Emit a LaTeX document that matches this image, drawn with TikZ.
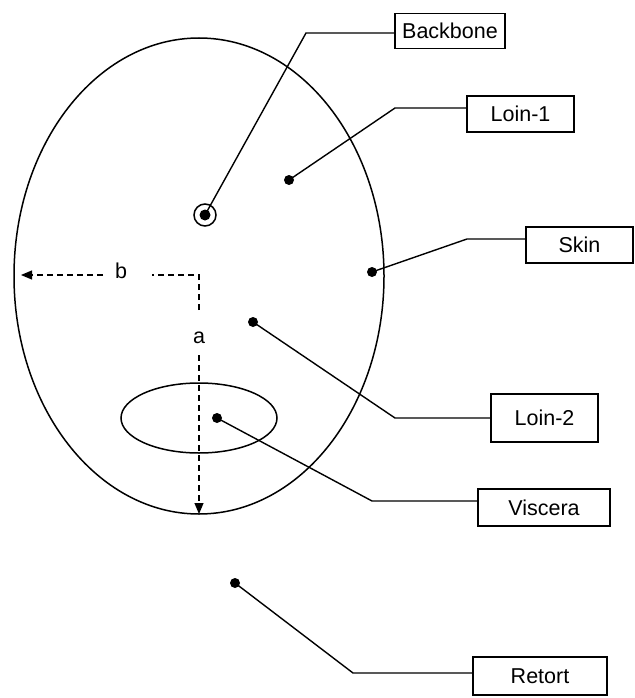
\documentclass[tikz,border=0pt]{standalone}
\usepackage{fontspec}
\setmainfont{Liberation Sans}
\usetikzlibrary{arrows.meta}
\begin{document}
\begin{tikzpicture}[x=1pt,y=-1pt,
  line width=1.5pt,
  lbl/.style={draw,line width=1.4pt,inner sep=0pt,font=\fontsize{21.5}{25}\selectfont},
  dot/.style={circle,fill,inner sep=0pt,minimum size=10pt},
  lead/.style={line width=1.4pt},
  dim/.style={dashed,dash pattern=on 6pt off 4pt,line width=1.2pt},
  tip/.style={-{Triangle[length=11pt,width=9pt]}},
  txt/.style={inner sep=0pt,font=\fontsize{21.5}{25}\selectfont}]
\useasboundingbox (0,0) rectangle (634,698);
% main ellipse
\draw (199,276) ellipse [x radius=185, y radius=238];
% viscera ellipse
\draw (199,418) ellipse [x radius=78, y radius=35];
% boxes
\node[lbl,minimum width=110pt,minimum height=35pt] (backbone) at (450,31) {Backbone};
\node[lbl,minimum width=107pt,minimum height=36pt] (loin1) at (520.5,114) {Loin-1};
\node[lbl,minimum width=107pt,minimum height=36pt] (skin) at (579.5,245) {Skin};
\node[lbl,minimum width=107pt,minimum height=48pt] (loin2) at (544.5,418) {Loin-2};
\node[lbl,minimum width=132pt,minimum height=37pt] (viscera) at (544,507.5) {Viscera};
\node[lbl,minimum width=134pt,minimum height=38pt] (retort) at (540,676) {Retort};
% backbone marker
\node[circle,draw,line width=1.5pt,inner sep=0pt,minimum size=22pt] (bbring) at (205,215) {};
\node[dot,minimum size=11pt] (bbdot) at (205,215) {};
% dots
\node[dot] (d1) at (289,180) {};
\node[dot] (dskin) at (372,272) {};
\node[dot] (d2) at (253,322) {};
\node[dot] (dv) at (217,418) {};
\node[dot] (dr) at (235,583) {};
% elbows
\coordinate (ebb) at (306,33);
\coordinate (e1) at (395,108);
\coordinate (eskin) at (467,239);
\coordinate (e2) at (395,418);
\coordinate (ev) at (372,501);
\coordinate (er) at (353,673);
% leaders
\draw[lead] (bbdot.center) -- (ebb) -- (ebb -| backbone.west);
\draw[lead] (d1.center) -- (e1) -- (e1 -| loin1.west);
\draw[lead] (dskin.center) -- (eskin) -- (eskin -| skin.west);
\draw[lead] (d2.center) -- (e2) -- (e2 -| loin2.west);
\draw[lead] (dv.center) -- (ev) -- (ev -| viscera.west);
\draw[lead] (dr.center) -- (er) -- (er -| retort.west);
% dimensions
\coordinate (c0) at (199,310);
\coordinate (c1) at (199,275);
\coordinate (c2) at (152,275);
\coordinate (c3) at (103,275);
\coordinate (bt) at (21,275);
\coordinate (a0) at (199,355);
\coordinate (at0) at (199,514);
\node[txt] (b) at (121,271) {b};
\node[txt] (a) at (199,338) {a};
\draw[dim] (c0) -- (c1) -- (c2);
\draw[dim,tip] (c3) -- (bt);
\draw[dim,tip] (a0) -- (at0);
\end{tikzpicture}
\end{document}
